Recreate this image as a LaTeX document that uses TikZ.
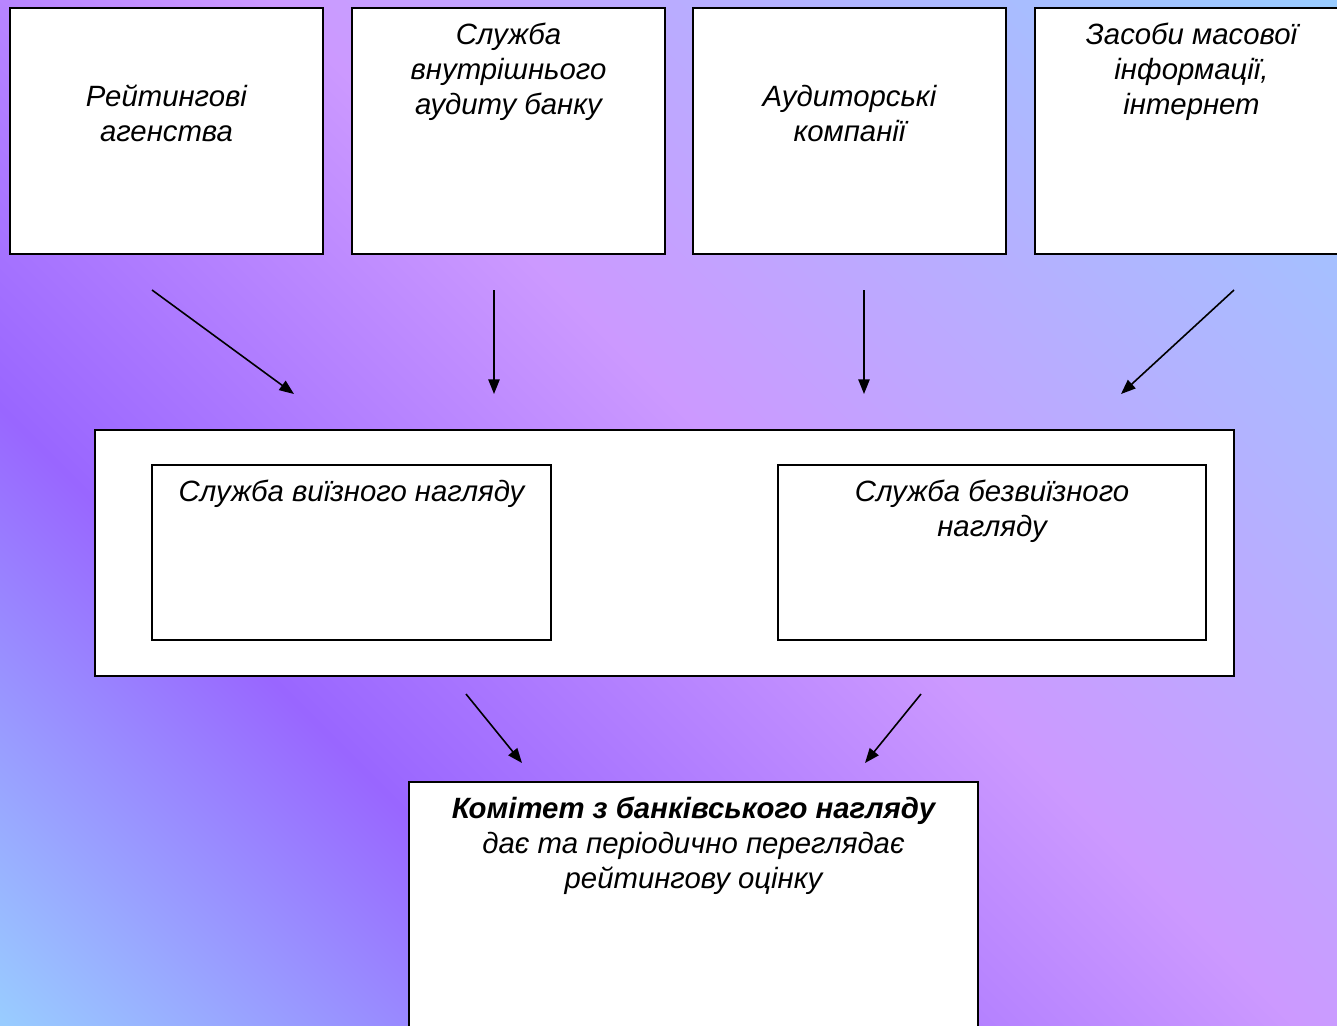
\documentclass[tikz,border=0pt]{standalone}
\usepackage{fontspec}
\setmainfont{Liberation Sans}
\usepackage{tikz}
\usetikzlibrary{calc,positioning,arrows.meta}
\definecolor{bgblue}{RGB}{153,204,255}
\definecolor{bgpurple}{RGB}{153,102,255}
\definecolor{bglilac}{RGB}{204,153,255}
\pgfdeclareverticalshading{slidebg}{100bp}{color(0bp)=(bgblue); color(14.6bp)=(bgblue); color(33bp)=(bgpurple); color(53.5bp)=(bglilac); color(85.4bp)=(bgblue); color(100bp)=(bgblue)}
\tikzstyle{box}=[draw,fill=white,line width=1.6pt,inner sep=0pt]
\tikzstyle{topbox}=[box,minimum width=234.75pt,minimum height=184.5pt]
\tikzstyle{boxtext}=[anchor=base,align=center,inner sep=0pt,font=\itshape\fontsize{22}{26.25}\selectfont]
\tikzstyle{feed}=[line width=1.2pt,-{Triangle[length=11pt,width=8.5pt]}]

\begin{document}
\begin{tikzpicture}[x=0.75pt,y=-0.75pt]
\clip (0,0) rectangle (1337,1025);
\fill[shading=slidebg,shading angle=-45] (0,0) rectangle (1337,1025);

% sources of information
\node [topbox] (rating) at (166.5,131) {};
\node [topbox] (audit) at (508.5,131) {};
\node [topbox] (firms) at (849.5,131) {};
\node [topbox] (media) at (1191.5,131) {};
\node [boxtext] (ratingtxt) at ([yshift=-101.25pt]rating.north) {Рейтингові\\агенства};
\node [boxtext] (audittxt) at ([yshift=-80.5pt]audit.north) {Служба\\внутрішнього\\аудиту банку};
\node [boxtext] (firmstxt) at ([yshift=-101.25pt]firms.north) {Аудиторські\\компанії};
\node [boxtext] (mediatxt) at ([yshift=-80.5pt]media.north) {Засоби масової\\інформації,\\інтернет};

% supervision
\node [box,minimum width=854.25pt,minimum height=184.5pt] (superv) at (664.5,553) {};
\node [box,minimum width=299.25pt,minimum height=131.25pt] (onsite) at (351.5,552.5) {};
\node [box,minimum width=321pt,minimum height=131.25pt] (offsite) at (992,552.5) {};
\node [boxtext] (onsitetxt) at ([yshift=-28pt]onsite.north) {Служба виїзного нагляду};
\node [boxtext] (offsitetxt) at ([yshift=-54.25pt]offsite.north) {Служба безвиїзного\\нагляду};

% committee
\node [box,minimum width=426.75pt,minimum height=197.25pt] (committee) at (693.5,913.5) {};
\node [boxtext] (committeetxt) at ([yshift=-80.5pt]committee.north)
  {\textbf{Комітет з банківського нагляду}\\дає та періодично переглядає\\рейтингову оцінку};

% arrows
\coordinate (a1s) at (152,290);  \coordinate (a1e) at (294,394);
\coordinate (a2s) at (494,290);  \coordinate (a2e) at (494,394);
\coordinate (a3s) at (864,290);  \coordinate (a3e) at (864,394);
\coordinate (a4s) at (1234,290); \coordinate (a4e) at (1121,394);
\coordinate (a5s) at (466,694);  \coordinate (a5e) at (522,763);
\coordinate (a6s) at (921,694);  \coordinate (a6e) at (865,763);
\draw [feed] (a1s) -- (a1e);
\draw [feed] (a2s) -- (a2e);
\draw [feed] (a3s) -- (a3e);
\draw [feed] (a4s) -- (a4e);
\draw [feed] (a5s) -- (a5e);
\draw [feed] (a6s) -- (a6e);
\end{tikzpicture}
\end{document}
